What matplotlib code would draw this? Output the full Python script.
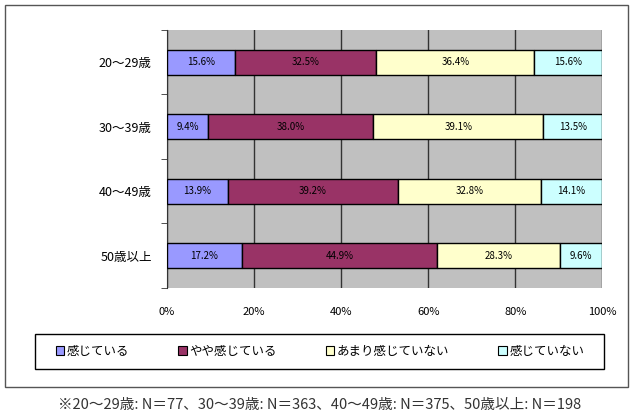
import numpy as np
import matplotlib.pyplot as plt
from matplotlib.patches import Patch, Rectangle

plt.rcParams['font.family'] = ['Noto Sans CJK JP', 'DejaVu Sans']

### data
age_groups = ['20～29歳', '30～39歳', '40～49歳', '50歳以上']
answers = ['感じている', 'やや感じている', 'あまり感じていない', '感じていない']
feel = [15.6, 9.4, 13.9, 17.2]
feel_some = [32.5, 38.0, 39.2, 44.9]
feel_little = [36.4, 39.1, 32.8, 28.3]
feel_none = [15.6, 13.5, 14.1, 9.6]
x_ticks = [0, 20, 40, 60, 80, 100]
note = '※20～29歳: N＝77、30～39歳: N＝363、40～49歳: N＝375、50歳以上: N＝198'

colors = ['#9999FF', '#993366', '#FFFFCC', '#CCFFFF']

values = np.array([feel, feel_some, feel_little, feel_none])
shares = values / values.sum(axis=0) * 100  # 100% stacked

fig = plt.figure(figsize=(6.4, 4.16), dpi=100)
# outer frame and legend frame
fig.patches.append(Rectangle((0.008, 0.07), 0.973, 0.918, transform=fig.transFigure,
                             fill=False, edgecolor='#555555', linewidth=1))
fig.patches.append(Rectangle((0.055, 0.113), 0.888, 0.084, transform=fig.transFigure,
                             fill=False, edgecolor='black', linewidth=1))

ax = fig.add_axes([0.261, 0.308, 0.680, 0.620])
ax.set_facecolor('#C0C0C0')

ypos = np.arange(len(age_groups))
left = np.zeros(len(age_groups))
for i in range(len(answers)):
    ax.barh(ypos, shares[i], left=left, height=0.39, color=colors[i],
            edgecolor='black', linewidth=1, zorder=3)
    for y, l, w, v in zip(ypos, left, shares[i], values[i]):
        ax.text(l + w / 2, y, f'{v:.1f}%', ha='center', va='center',
                fontsize=7, color='black', zorder=4)
    left += shares[i]

ax.set_xlim(0, 100)
ax.set_ylim(len(age_groups) - 0.5, -0.5)
ax.set_xticks(x_ticks)
ax.set_xticklabels([f'{t}%' for t in x_ticks], fontsize=8)
ax.tick_params(axis='x', length=0, pad=14)
ax.set_yticks(ypos)
ax.set_yticklabels(age_groups, fontsize=9)
ax.tick_params(axis='y', length=0, pad=11)
ax.set_yticks(np.arange(-0.5, len(age_groups)), minor=True)
ax.tick_params(axis='y', which='minor', length=4, color='#333333')
ax.grid(axis='x', color='#333333', linewidth=1, zorder=1)
ax.set_axisbelow(True)
for s in ['top', 'right', 'bottom']:
    ax.spines[s].set_visible(False)
ax.spines['left'].set_color('#333333')

handles = [Patch(facecolor=c, edgecolor='black', linewidth=0.8) for c in colors]
leg = fig.legend(handles, answers, ncol=4, loc='center',
                 bbox_to_anchor=(0.5, 0.155), fontsize=9, frameon=False,
                 handlelength=0.7, handleheight=0.7, handletextpad=0.2,
                 columnspacing=3.9)

fig.text(0.5, 0.027, note, ha='center', va='center', fontsize=10.5, color='#333333')

fig.savefig('out.png', dpi=100)
